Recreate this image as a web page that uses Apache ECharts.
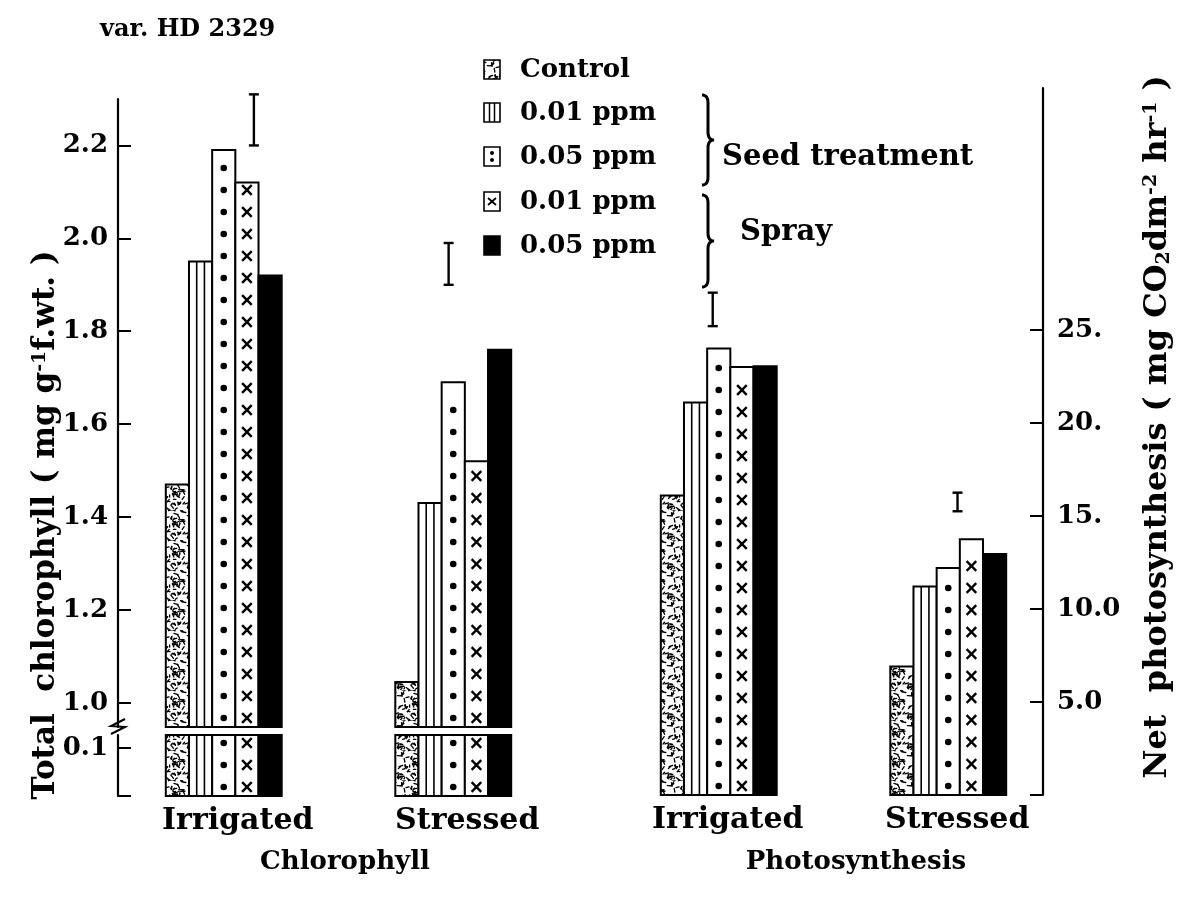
<!DOCTYPE html>
<html>
<head>
<meta charset="utf-8">
<title>var. HD 2329</title>
<script src="https://cdn.jsdelivr.net/npm/echarts@6/dist/echarts.min.js"></script>
<style>
  html, body { margin: 0; padding: 0; background: #fff; }
  #main { width: 1193px; height: 908px; }
</style>
</head>
<body>
<div id="main"></div>
<script>
/*
  data
 */
var groups = ['Irrigated', 'Stressed'];
var treatments = ['Control', '0.01 ppm', '0.05 ppm', '0.01 ppm', '0.05 ppm'];

// total chlorophyll (mg g-1 f.wt.), [Irrigated, Stressed]
var chlControl  = [1.47, 1.045];
var chlSeed001  = [1.95, 1.43];
var chlSeed005  = [2.19, 1.69];
var chlSpray001 = [2.12, 1.52];
var chlSpray005 = [1.92, 1.76];
var chlLsd = [[2.20, 2.31], [1.90, 1.99]];

// net photosynthesis (mg CO2 dm-2 hr-1), [Irrigated, Stressed]
var psControl  = [16.1, 6.9];
var psSeed001  = [21.1, 11.2];
var psSeed005  = [24.0, 12.2];
var psSpray001 = [23.0, 13.75];
var psSpray005 = [23.05, 12.95];
var psLsd = [[25.2, 27.0], [15.25, 16.25]];

// axis ticks
var chlTicks = [1.0, 1.2, 1.4, 1.6, 1.8, 2.0, 2.2];
var chlLowTicks = [0, 0.1];
var chlLowLabels = [0.1];
var psTicks = [0, 5, 10, 15, 20, 25];
var psTickLabels = ['', '5.0', '10.0', '15.', '20.', '25.'];

var FONT = '"DejaVu Serif", "Liberation Serif", serif';
var BAR_RATIO = 0.101;            // bar width as part of one category band
var chlErrShift = [1.3, -0.2];    // error bar position, in bar widths from group centre
var psErrShift = [-0.26, 0.4];

/* speckle texture for the control bars */
function makeSpeckle() {
	var c = document.createElement('canvas');
	c.width = 30; c.height = 30;
	var ctx = c.getContext('2d');
	ctx.fillStyle = '#fff';
	ctx.fillRect(0, 0, 30, 30);
	ctx.strokeStyle = '#000';
	ctx.lineWidth = 1.3;
	ctx.lineCap = 'round';
	var s = 11;
	function rnd() { s = (s * 16807) % 2147483647; return s / 2147483647; }
	for (var i = 0; i < 70; i++) {
		var x = rnd() * 30, y = rnd() * 30, a = rnd() * Math.PI * 2, l = 1.5 + rnd() * 3;
		ctx.beginPath();
		ctx.moveTo(x, y);
		ctx.lineTo(x + Math.cos(a) * l, y + Math.sin(a) * l);
		ctx.stroke();
	}
	return c;
}
var speckle = { image: makeSpeckle(), repeat: 'repeat' };

/* shapes of one bar; slot = treatment index */
function barShapes(slot, x, y, w, h) {
	var fill = '#fff';
	if (slot === 0) fill = speckle;
	if (slot === 4) fill = '#000';
	var kids = [{
		type: 'rect',
		shape: { x: x, y: y, width: w, height: h },
		style: { fill: fill, stroke: '#000', lineWidth: 2 }
	}];
	var ln = { stroke: '#000', lineWidth: 1.6 };
	if (slot === 1) {
		kids.push({ type: 'line', shape: { x1: x + w / 3, y1: y, x2: x + w / 3, y2: y + h }, style: ln });
		kids.push({ type: 'line', shape: { x1: x + 2 * w / 3, y1: y, x2: x + 2 * w / 3, y2: y + h }, style: ln });
	}
	if (slot === 2 || slot === 3) {
		for (var yy = y + h - 9; yy > y + 6; yy -= 22) {
			if (slot === 2) {
				kids.push({ type: 'circle', shape: { cx: x + w / 2, cy: yy, r: 3.3 }, style: { fill: '#000' } });
			} else {
				var cx = x + w / 2, d = 4.8;
				kids.push({ type: 'line', shape: { x1: cx - d, y1: yy - d, x2: cx + d, y2: yy + d }, style: { stroke: '#000', lineWidth: 2.4 } });
				kids.push({ type: 'line', shape: { x1: cx - d, y1: yy + d, x2: cx + d, y2: yy - d }, style: { stroke: '#000', lineWidth: 2.4 } });
			}
		}
	}
	return kids;
}

function barItem(params, api) {
	var cat = api.value(0);
	var slot = api.value(1);
	var val = api.value(2);
	var cs = params.coordSys;
	var bw = api.size([1, 0])[0] * BAR_RATIO;
	var pt = api.coord([cat, val]);
	var x0 = pt[0] - 2.5 * bw + slot * bw;
	var top = Math.max(pt[1], cs.y);
	var bot = cs.y + cs.height;
	return { type: 'group', children: barShapes(slot, x0, top, bw, bot - top) };
}

function errItem(shifts) {
	return function (params, api) {
		var cat = api.value(0);
		var bw = api.size([1, 0])[0] * BAR_RATIO;
		var p1 = api.coord([cat, api.value(1)]);
		var p2 = api.coord([cat, api.value(2)]);
		var x = p1[0] + shifts[cat] * bw;
		var st = { stroke: '#000', lineWidth: 2.4 };
		return {
			type: 'group',
			children: [
				{ type: 'line', shape: { x1: x, y1: p1[1], x2: x, y2: p2[1] }, style: st },
				{ type: 'line', shape: { x1: x - 5, y1: p1[1], x2: x + 5, y2: p1[1] }, style: st },
				{ type: 'line', shape: { x1: x - 5, y1: p2[1], x2: x + 5, y2: p2[1] }, style: st }
			]
		};
	};
}

function barData(rows) {
	var out = [];
	rows.forEach(function (r, slot) {
		r.forEach(function (v, cat) { out.push([cat, slot, v]); });
	});
	return out;
}
function errData(rows) {
	return rows.map(function (r, cat) { return [cat, r[0], r[1]]; });
}

var chlRows = [chlControl, chlSeed001, chlSeed005, chlSpray001, chlSpray005];
var psRows = [psControl, psSeed001, psSeed005, psSpray001, psSpray005];

/* legend (drawn by hand, with the two braces) */
function legendIcon(slot, x, y) {
	var w = 16, h = 19;
	var kids = [{
		type: 'rect',
		shape: { x: x, y: y, width: w, height: h },
		style: { fill: slot === 0 ? speckle : (slot === 4 ? '#000' : '#fff'), stroke: '#000', lineWidth: 1.6 }
	}];
	if (slot === 1) {
		kids.push({ type: 'line', shape: { x1: x + 5.5, y1: y, x2: x + 5.5, y2: y + h }, style: { stroke: '#000', lineWidth: 1.5 } });
		kids.push({ type: 'line', shape: { x1: x + 10.5, y1: y, x2: x + 10.5, y2: y + h }, style: { stroke: '#000', lineWidth: 1.5 } });
	}
	if (slot === 2) {
		kids.push({ type: 'circle', shape: { cx: x + 8, cy: y + 6, r: 2 }, style: { fill: '#000' } });
		kids.push({ type: 'circle', shape: { cx: x + 8, cy: y + 13, r: 2 }, style: { fill: '#000' } });
	}
	if (slot === 3) {
		kids.push({ type: 'line', shape: { x1: x + 4, y1: y + 6, x2: x + 12, y2: y + 13 }, style: { stroke: '#000', lineWidth: 1.8 } });
		kids.push({ type: 'line', shape: { x1: x + 4, y1: y + 13, x2: x + 12, y2: y + 6 }, style: { stroke: '#000', lineWidth: 1.8 } });
	}
	return kids;
}

function brace(x, y1, y2) {
	// right facing curly brace made of quadratic pieces
	var ym = (y1 + y2) / 2;
	var pts = [];
	function q(a, c, b) {
		for (var t = 0; t <= 1.0001; t += 0.1) {
			var u = 1 - t;
			pts.push([u * u * a[0] + 2 * u * t * c[0] + t * t * b[0], u * u * a[1] + 2 * u * t * c[1] + t * t * b[1]]);
		}
	}
	q([x - 6, y1], [x, y1], [x, y1 + 8]);
	q([x, y1 + 8], [x, (y1 + ym) / 2], [x, ym - 8]);
	q([x, ym - 8], [x, ym], [x + 6, ym]);
	q([x + 6, ym], [x, ym], [x, ym + 8]);
	q([x, ym + 8], [x, (ym + y2) / 2], [x, y2 - 8]);
	q([x, y2 - 8], [x, y2], [x - 6, y2]);
	return { type: 'polyline', shape: { points: pts }, style: { stroke: '#000', lineWidth: 3, fill: null } };
}

var legendY = [70, 113, 157, 202, 246];
var graphics = [];
treatments.forEach(function (name, i) {
	graphics = graphics.concat(legendIcon(i, 484, legendY[i] - 10));
	graphics.push({
		type: 'text', x: 520, y: legendY[i],
		style: { text: name, font: 'bold 26px ' + FONT, fill: '#000', textAlign: 'left', textVerticalAlign: 'middle', align: 'left', verticalAlign: 'middle' }
	});
});
graphics.push(brace(708, 95, 185));
graphics.push(brace(708, 195, 287));
function plainText(str, x, y, size, align) {
	return {
		type: 'text', x: x, y: y,
		style: { text: str, font: 'bold ' + size + 'px ' + FONT, fill: '#000', textAlign: align, textVerticalAlign: 'middle', align: align, verticalAlign: 'middle' }
	};
}
graphics.push(plainText('Seed treatment', 722, 157, 29, 'left'));
graphics.push(plainText('Spray', 740, 232, 29, 'left'));
graphics.push(plainText('var. HD 2329', 100, 30, 24, 'left'));
graphics.push(plainText('Chlorophyll', 345, 862, 26, 'center'));
graphics.push(plainText('Photosynthesis', 856, 862, 26, 'center'));

// axis titles with super/subscripts
var supStyle = { font: 'bold 19px ' + FONT, verticalAlign: 'top', fill: '#000' };
var subStyle = { font: 'bold 19px ' + FONT, verticalAlign: 'bottom', fill: '#000' };
graphics.push({
	type: 'text', x: 46, y: 525, rotation: Math.PI / 2,
	style: {
		text: '{m|Total  chlorophyll ( mg g}{sup|-1}{m|f.wt. )}',
		rich: { m: { font: 'bold 31px ' + FONT, fill: '#000' }, sup: supStyle },
		textAlign: 'center', textVerticalAlign: 'middle', align: 'center', verticalAlign: 'middle'
	}
});
graphics.push({
	type: 'text', x: 1158, y: 427, rotation: Math.PI / 2,
	style: {
		text: '{m|Net  photosynthesis ( mg CO}{sub|2}{m|dm}{sup|-2}{m| hr}{sup|-1}{m| )}',
		rich: { m: { font: 'bold 32px ' + FONT, fill: '#000' }, sup: supStyle, sub: subStyle },
		textAlign: 'center', textVerticalAlign: 'middle', align: 'center', verticalAlign: 'middle'
	}
});
// axis break mark
graphics.push({
	type: 'polyline',
	shape: { points: [[111, 734], [125, 727], [111, 726], [125, 719]] },
	style: { stroke: '#000', lineWidth: 2, fill: null }
});

var tickFont = { color: '#000', fontSize: 26, fontWeight: 'bold', fontFamily: FONT };
var catFont = { color: '#000', fontSize: 30, fontWeight: 'bold', fontFamily: FONT };

var myChart = echarts.init(document.getElementById('main'));
var option = {
	animation: false,
	backgroundColor: '#fff',
	grid: [
		{ left: 109, top: 99, width: 459, height: 628, outerBoundsMode: 'none' },
		{ left: 109, top: 735, width: 459, height: 61, outerBoundsMode: 'none' },
		{ left: 604, top: 88, width: 459, height: 707, outerBoundsMode: 'none' }
	],
	xAxis: [
		{ type: 'category', gridIndex: 0, data: groups, axisLine: { show: false }, axisTick: { show: false }, axisLabel: { show: false } },
		{
			type: 'category', gridIndex: 1, data: groups, axisLine: { show: false }, axisTick: { show: false },
			axisLabel: Object.assign({ margin: 10, padding: [0, 0, 0, 28] }, catFont)
		},
		{
			type: 'category', gridIndex: 2, data: groups, axisLine: { show: false }, axisTick: { show: false },
			axisLabel: Object.assign({ margin: 10, padding: [0, 0, 0, 18] }, catFont)
		}
	],
	yAxis: [
		{
			type: 'value', gridIndex: 0, min: 0.948, max: 2.3, offset: -9,
			axisLine: { show: true, lineStyle: { color: '#000', width: 2.2 } },
			axisTick: { show: true, inside: true, length: 13, customValues: chlTicks, lineStyle: { color: '#000', width: 2 } },
			axisLabel: Object.assign({ margin: 10, customValues: chlTicks, formatter: function (v) { return v.toFixed(1); } }, tickFont),
			splitLine: { show: false }
		},
		{
			type: 'value', gridIndex: 1, min: 0, max: 0.127, offset: -9,
			axisLine: { show: true, lineStyle: { color: '#000', width: 2.2 } },
			axisTick: { show: true, inside: true, length: 13, customValues: chlLowTicks, lineStyle: { color: '#000', width: 2 } },
			axisLabel: Object.assign({ margin: 10, customValues: chlLowLabels, formatter: function (v) { return v.toFixed(1); } }, tickFont),
			splitLine: { show: false }
		},
		{
			type: 'value', gridIndex: 2, position: 'right', min: 0, max: 38, offset: -20,
			axisLine: { show: true, lineStyle: { color: '#000', width: 2.2 } },
			axisTick: { show: true, inside: true, length: 13, customValues: psTicks, lineStyle: { color: '#000', width: 2 } },
			axisLabel: Object.assign({
				margin: 14, customValues: psTicks,
				formatter: function (v) { return psTickLabels[psTicks.indexOf(v)]; }
			}, tickFont),
			splitLine: { show: false }
		}
	],
	series: [
		{ type: 'custom', name: 'chl', xAxisIndex: 0, yAxisIndex: 0, renderItem: barItem, encode: { x: 0, y: 2 }, data: barData(chlRows) },
		{ type: 'custom', name: 'chl low', xAxisIndex: 1, yAxisIndex: 1, renderItem: barItem, encode: { x: 0, y: 2 }, data: barData(chlRows) },
		{ type: 'custom', name: 'ps', xAxisIndex: 2, yAxisIndex: 2, renderItem: barItem, encode: { x: 0, y: 2 }, data: barData(psRows) },
		{ type: 'custom', name: 'chl lsd', xAxisIndex: 0, yAxisIndex: 0, renderItem: errItem(chlErrShift), encode: { x: 0, y: [1, 2] }, data: errData(chlLsd), clip: false },
		{ type: 'custom', name: 'ps lsd', xAxisIndex: 2, yAxisIndex: 2, renderItem: errItem(psErrShift), encode: { x: 0, y: [1, 2] }, data: errData(psLsd), clip: false }
	],
	graphic: graphics
};
myChart.setOption(option);
</script>
</body>
</html>
